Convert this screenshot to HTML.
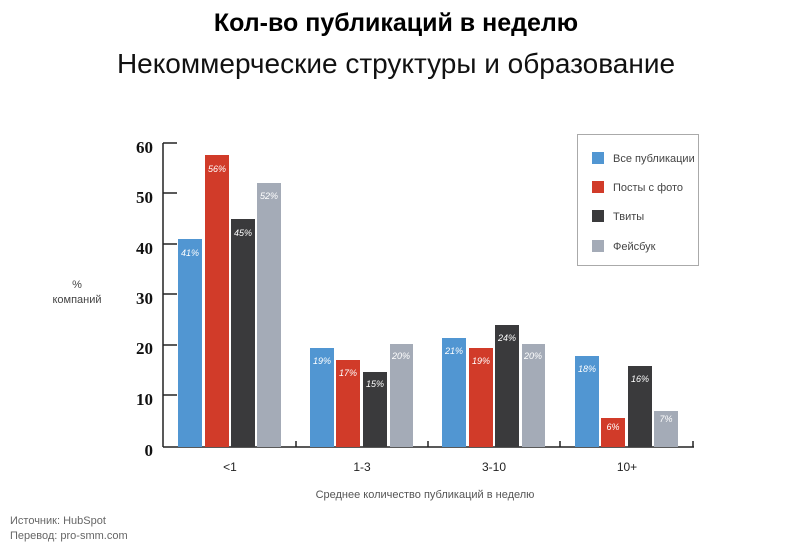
<!DOCTYPE html>
<html><head><meta charset="utf-8"><style>
body{margin:0;background:#fff;}
svg{display:block;font-family:"Liberation Sans","DejaVu Sans",sans-serif;}
</style></head><body>
<svg width="792" height="556" viewBox="0 0 792 556">
<text x="396" y="31" text-anchor="middle" font-size="25" font-weight="bold" fill="#000">Кол-во публикаций в неделю</text>
<text x="396" y="73" text-anchor="middle" font-size="28" fill="#111">Некоммерческие структуры и образование</text>

<g font-family="Liberation Serif,serif" font-weight="bold" font-size="17" fill="#111" text-anchor="end">
<text x="153" y="153">60</text><text x="153" y="203">50</text><text x="153" y="254">40</text>
<text x="153" y="304">30</text><text x="153" y="354">20</text><text x="153" y="405">10</text>
<text x="153" y="456">0</text></g>
<text x="77" y="288" text-anchor="middle" font-size="11" fill="#444">%</text>
<text x="77" y="303" text-anchor="middle" font-size="11" fill="#444">компаний</text>

<g stroke="#222" stroke-width="1.5">
<line x1="163" y1="143" x2="163" y2="447"/>
<line x1="163" y1="447" x2="694" y2="447"/>
<line x1="163" y1="143" x2="177" y2="143"/><line x1="163" y1="193" x2="177" y2="193"/>
<line x1="163" y1="244" x2="177" y2="244"/><line x1="163" y1="294" x2="177" y2="294"/>
<line x1="163" y1="345" x2="177" y2="345"/><line x1="163" y1="395" x2="177" y2="395"/>
<line x1="296" y1="441" x2="296" y2="447"/><line x1="428" y1="441" x2="428" y2="447"/>
<line x1="560" y1="441" x2="560" y2="447"/><line x1="693" y1="441" x2="693" y2="447"/>
</g>

<g>
<rect x="178" y="239" width="24" height="208" fill="#5196d2"/>
<rect x="205" y="155" width="24" height="292" fill="#d13b29"/>
<rect x="231" y="219" width="24" height="228" fill="#3a3a3c"/>
<rect x="257" y="183" width="24" height="264" fill="#a4abb7"/>
<rect x="310" y="348" width="24" height="99" fill="#5196d2"/>
<rect x="336" y="360" width="24" height="87" fill="#d13b29"/>
<rect x="363" y="372" width="24" height="75" fill="#3a3a3c"/>
<rect x="390" y="344" width="23" height="103" fill="#a4abb7"/>
<rect x="442" y="338" width="24" height="109" fill="#5196d2"/>
<rect x="469" y="348" width="24" height="99" fill="#d13b29"/>
<rect x="495" y="325" width="24" height="122" fill="#3a3a3c"/>
<rect x="522" y="344" width="23" height="103" fill="#a4abb7"/>
<rect x="575" y="356" width="24" height="91" fill="#5196d2"/>
<rect x="601" y="418" width="24" height="29" fill="#d13b29"/>
<rect x="628" y="366" width="24" height="81" fill="#3a3a3c"/>
<rect x="654" y="411" width="24" height="36" fill="#a4abb7"/>
</g>
<g font-size="9" font-style="italic" fill="#fff" text-anchor="middle">
<text x="190" y="256">41%</text><text x="217" y="172">56%</text><text x="243" y="236">45%</text><text x="269" y="199">52%</text>
<text x="322" y="364">19%</text><text x="348" y="376">17%</text><text x="375" y="387">15%</text><text x="401" y="359">20%</text>
<text x="454" y="354">21%</text><text x="481" y="364">19%</text><text x="507" y="341">24%</text><text x="533" y="359">20%</text>
<text x="587" y="372">18%</text><text x="613" y="430">6%</text><text x="640" y="382">16%</text><text x="666" y="422">7%</text>
</g>

<g font-size="12" fill="#222" text-anchor="middle">
<text x="230" y="471">&lt;1</text><text x="362" y="471">1-3</text><text x="494" y="471">3-10</text><text x="627" y="471">10+</text>
</g>
<text x="425" y="498" text-anchor="middle" font-size="11" fill="#555">Среднее количество публикаций в неделю</text>

<rect x="577.5" y="134.5" width="121" height="131" fill="#fff" stroke="#aaa"/>
<rect x="592" y="152" width="12" height="12" fill="#5196d2"/>
<rect x="592" y="181" width="12" height="12" fill="#d13b29"/>
<rect x="592" y="210" width="12" height="12" fill="#3a3a3c"/>
<rect x="592" y="240" width="12" height="12" fill="#a4abb7"/>
<g font-size="11" fill="#444">
<text x="613" y="162">Все публикации</text><text x="613" y="191">Посты с фото</text>
<text x="613" y="220">Твиты</text><text x="613" y="250">Фейсбук</text></g>

<text x="10" y="524" font-size="11" fill="#666">Источник: HubSpot</text>
<text x="10" y="539" font-size="11" fill="#666">Перевод: pro-smm.com</text>
</svg>
</body></html>
